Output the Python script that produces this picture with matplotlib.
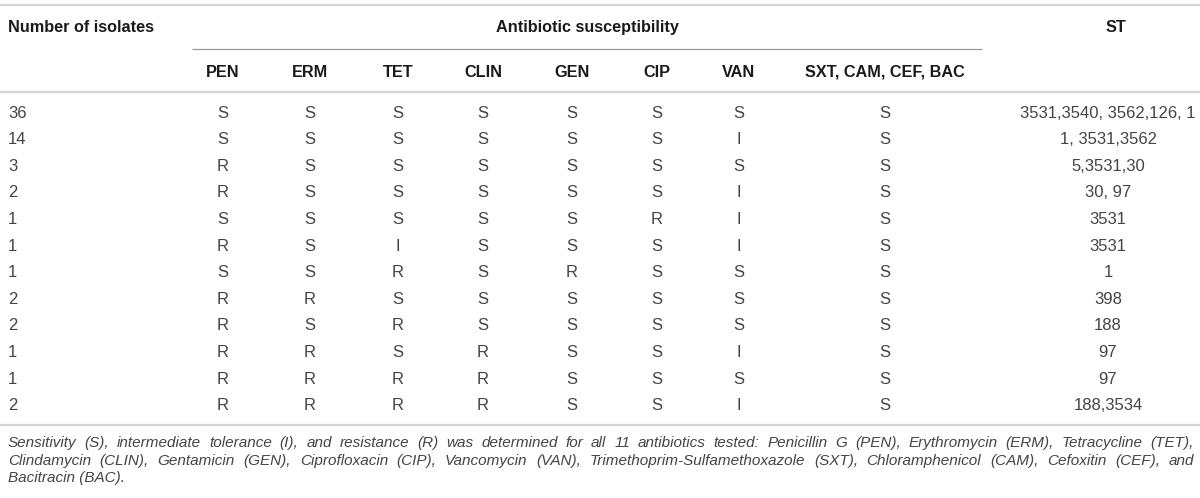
import matplotlib
matplotlib.use("Agg")
import matplotlib.pyplot as plt

# table contents, one list per column
isolates = ["36", "14", "3", "2", "1", "1", "1", "2", "2", "1", "1", "2"]
pen = ["S", "S", "R", "R", "S", "R", "S", "R", "R", "R", "R", "R"]
erm = ["S", "S", "S", "S", "S", "S", "S", "R", "S", "R", "R", "R"]
tet = ["S", "S", "S", "S", "S", "I", "R", "S", "R", "S", "R", "R"]
clin = ["S", "S", "S", "S", "S", "S", "S", "S", "S", "R", "R", "R"]
gen = ["S", "S", "S", "S", "S", "S", "R", "S", "S", "S", "S", "S"]
cip = ["S", "S", "S", "S", "R", "S", "S", "S", "S", "S", "S", "S"]
van = ["S", "I", "S", "I", "I", "I", "S", "S", "S", "I", "S", "I"]
others = ["S"] * 12
st = ["3531,3540, 3562,126, 1", "1, 3531,3562", "5,3531,30", "30, 97", "3531",
      "3531", "1", "398", "188", "97", "97", "188,3534"]

drug_cols = ["PEN", "ERM", "TET", "CLIN", "GEN", "CIP", "VAN", "SXT, CAM, CEF, BAC"]
caption = [
    "Sensitivity (S), intermediate tolerance (I), and resistance (R) was determined for all 11 "
    "antibiotics tested: Penicillin G (PEN), Erythromycin (ERM), Tetracycline (TET),",
    "Clindamycin (CLIN), Gentamicin (GEN), Ciprofloxacin (CIP), Vancomycin (VAN), "
    "Trimethoprim-Sulfamethoxazole (SXT), Chloramphenicol (CAM), Cefoxitin (CEF), and",
    "Bacitracin (BAC).",
]

plt.rcParams['font.family'] = ['Liberation Sans', 'DejaVu Sans']

W, H = 1200, 498
fig = plt.figure(figsize=(W / 100, H / 100), dpi=100)
ax = fig.add_axes([0, 0, 1, 1])
ax.set_xlim(0, W)
ax.set_ylim(H, 0)
ax.axis("off")

col_x = [223, 310, 398, 483, 572, 657, 739, 885]
st_x = 1108
row_y0, row_dy = 113, 26.6
fs_hdr = 11.7
fs = 12
fs_cap = 11
hdr_color = "#1a1a1a"
txt_color = "#444444"

# rules
ax.plot([0, W], [5, 5], color="#d4d4d4", lw=1.6, solid_capstyle="butt")
ax.plot([192, 982], [49, 49], color="#9a9a9a", lw=0.9, solid_capstyle="butt")
ax.plot([0, W], [92, 92], color="#d4d4d4", lw=1.6, solid_capstyle="butt")
ax.plot([0, W], [425, 425], color="#d4d4d4", lw=1.6, solid_capstyle="butt")

# headers
ax.text(8, 27, "Number of isolates", fontsize=fs_hdr, fontweight="bold", color=hdr_color,
        ha="left", va="center")
ax.text(587, 27, "Antibiotic susceptibility", fontsize=fs_hdr, fontweight="bold", color=hdr_color,
        ha="center", va="center")
ax.text(1116, 27, "ST", fontsize=fs_hdr, fontweight="bold", color=hdr_color,
        ha="center", va="center")
for x, name in zip(col_x, drug_cols):
    ax.text(x, 72, name, fontsize=fs_hdr, fontweight="bold", color=hdr_color,
            ha="center", va="center")

# body
columns = [pen, erm, tet, clin, gen, cip, van, others]
for i in range(len(isolates)):
    y = row_y0 + i * row_dy
    ax.text(8, y, isolates[i], fontsize=fs, color=txt_color, ha="left", va="center")
    for x, col in zip(col_x, columns):
        ax.text(x, y, col[i], fontsize=fs, color=txt_color, ha="center", va="center")
    ax.text(st_x, y, st[i], fontsize=fs, color=txt_color, ha="center", va="center")

# caption, justified lines
fig.canvas.draw()
renderer = fig.canvas.get_renderer()
cap_y = [443, 461, 478]
left, right = 8, 1194
for k, line in enumerate(caption):
    y = cap_y[k]
    if k == len(caption) - 1:
        ax.text(left, y, line, fontsize=fs_cap, style="italic", color=txt_color,
                ha="left", va="center")
        continue
    words = line.split(" ")
    arts = [ax.text(0, y, w, fontsize=fs_cap, style="italic", color=txt_color,
                    ha="left", va="center") for w in words]
    widths = [a.get_window_extent(renderer).width for a in arts]
    gap = (right - left - sum(widths)) / (len(words) - 1)
    x = left
    for a, w in zip(arts, widths):
        a.set_x(x)
        x += w + gap

fig.savefig("out.png", dpi=100)
